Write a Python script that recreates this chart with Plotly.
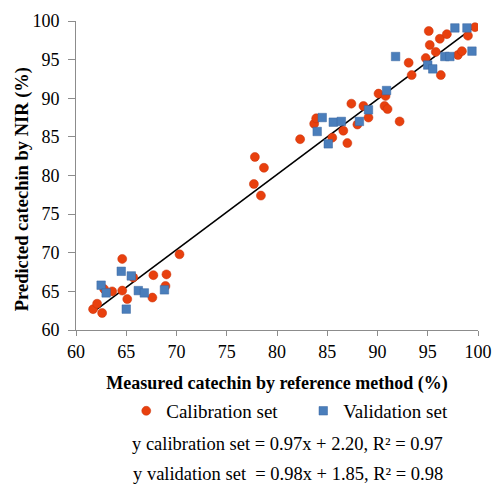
import plotly.graph_objects as go

# Calibration set (measured, predicted)
cal_x = [61.7, 62.1, 62.6, 62.8, 63.6, 64.6, 64.6, 65.1, 65.7, 67.6, 67.7, 68.9, 69.0, 70.3,
         77.7, 77.8, 78.4, 78.7, 82.3, 83.7, 83.9, 85.5, 86.6, 87.0, 87.4, 88.0, 88.6, 89.1,
         90.1, 90.8, 90.7, 91.0, 92.2, 93.1, 93.4, 94.8, 95.1, 95.2, 95.8, 96.2, 96.3, 96.9,
         98.0, 98.4, 99.0, 99.7]
cal_y = [62.7, 63.4, 62.2, 65.3, 65.0, 65.1, 69.2, 64.0, 66.8, 64.2, 67.1, 65.7, 67.2, 69.8,
         78.9, 82.4, 77.4, 81.0, 84.7, 86.7, 87.4, 84.9, 85.8, 84.2, 89.3, 86.6, 89.0, 87.5,
         90.6, 90.3, 89.0, 88.6, 87.0, 94.6, 93.0, 95.2, 98.7, 96.9, 96.0, 97.7, 93.0, 98.3,
         95.6, 96.1, 98.1, 99.2]

# Validation set
val_x = [62.5, 63.0, 64.5, 65.0, 65.5, 66.2, 66.8, 68.8, 84.0, 84.5, 85.1, 85.6, 86.4, 88.2,
         89.1, 90.9, 91.8, 95.0, 95.5, 96.7, 97.2, 97.7, 98.9, 99.4]
val_y = [65.8, 64.8, 67.6, 62.7, 67.0, 65.1, 64.8, 65.2, 85.7, 87.5, 84.1, 86.9, 87.0, 87.0,
         88.5, 91.0, 95.4, 94.3, 93.8, 95.4, 95.4, 99.1, 99.1, 96.1]

# Trend line end points
trend_x = [61.7, 99.7]
trend_y = [62.3, 99.3]

tick_vals = [60, 65, 70, 75, 80, 85, 90, 95, 100]
tick_text = ["60", "65", "70", "75", "80", "85", "90", "95", "100"]

FONT = "Times New Roman, Liberation Serif, DejaVu Serif, serif"

fig = go.Figure()
fig.add_trace(go.Scatter(
    x=trend_x, y=trend_y, mode="lines",
    line=dict(color="black", width=1.6), showlegend=False, hoverinfo="skip"))
fig.add_trace(go.Scatter(
    x=cal_x, y=cal_y, mode="markers", name="Calibration set",
    marker=dict(symbol="circle", size=9, color="#E8400E",
                line=dict(color="#C83008", width=0.5))))
fig.add_trace(go.Scatter(
    x=val_x, y=val_y, mode="markers", name="Validation set",
    marker=dict(symbol="square", size=8.5, color="#4A7EBB",
                line=dict(color="#3A66A0", width=0.5))))

axis_common = dict(
    showgrid=False, zeroline=False, showline=True, linecolor="#8c8c8c", linewidth=1,
    ticks="outside", tickcolor="#8c8c8c", tickwidth=1,
    tickfont=dict(family=FONT, size=18, color="black"),
    tickvals=tick_vals, ticktext=tick_text, automargin=False,
)

fig.update_layout(
    width=494, height=484,
    margin=dict(l=76, r=16, t=21, b=154),
    paper_bgcolor="white", plot_bgcolor="white",
    font=dict(family=FONT, size=17, color="black"),
    xaxis=dict(range=[60, 100], ticklen=5, **axis_common,
               title=dict(text="<b>Measured catechin by reference method (%)</b>",
                          font=dict(family=FONT, size=18), standoff=15)),
    yaxis=dict(range=[60, 100], ticklen=7, ticklabelstandoff=5, **axis_common),
    legend=dict(orientation="h", x=0.125, xanchor="left", y=-0.262, yanchor="middle",
                font=dict(family=FONT, size=19),
                entrywidth=132, entrywidthmode="pixels", bgcolor="rgba(0,0,0,0)",
                tracegroupgap=0, itemwidth=30),
    annotations=[
        dict(text="<b>Predicted catechin by NIR (%)</b>", textangle=-90,
             x=-0.134, y=0.456, xref="paper", yref="paper", showarrow=False,
             xanchor="center", yanchor="middle", font=dict(family=FONT, size=18.5)),
        dict(text="y calibration set = 0.97x + 2.20, R² = 0.97", x=0.525, y=-0.37,
             xref="paper", yref="paper", showarrow=False, xanchor="center", yanchor="middle",
             font=dict(family=FONT, size=18.5)),
        dict(text="y validation set \u00a0= 0.98x + 1.85, R² = 0.98", x=0.528, y=-0.466,
             xref="paper", yref="paper", showarrow=False, xanchor="center", yanchor="middle",
             font=dict(family=FONT, size=18.5)),
    ],
)

fig.write_html("out.html", config={"displayModeBar": False},
               post_script="document.body.style.margin='0';document.body.style.padding='0';")
